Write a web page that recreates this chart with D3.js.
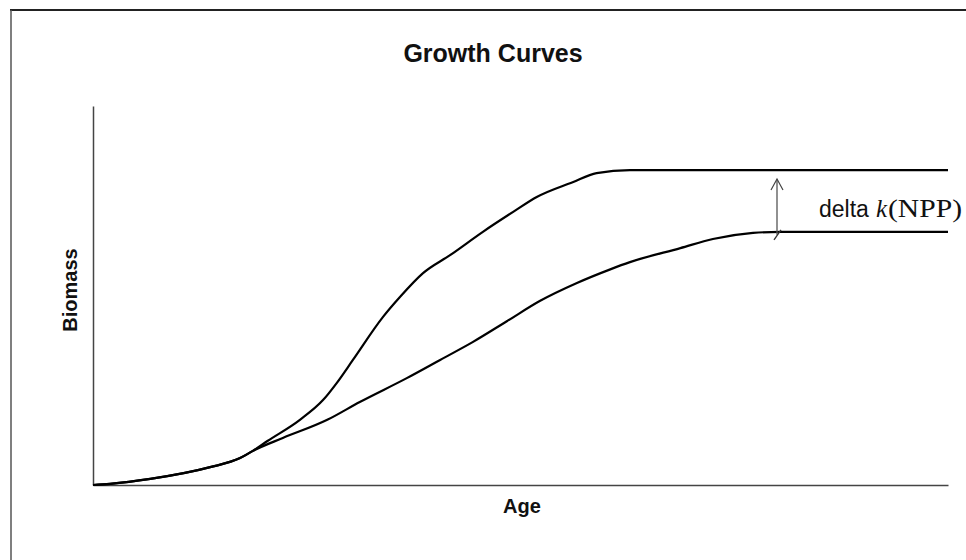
<!DOCTYPE html>
<html><head><meta charset="utf-8">
<script src="https://cdn.jsdelivr.net/npm/d3@7"></script>
<style>body{margin:0;background:#fff}svg{display:block}</style>
</head><body>
<svg id="c" width="966" height="560"></svg>
<script>
// ---- data (arbitrary units, 0..100) ----
const ageHigh = [0, 2.0, 6.7, 13.7, 17.2, 18.7, 20.4, 24.2, 26.9, 28.5, 30.4, 33.9, 35.9, 38.6, 41.8, 45.6, 49.1, 51.9, 56.1, 58.9, 62.8, 100];
const biomassHigh = [0, 0.3, 1.6, 4.7, 7.1, 9.0, 11.6, 17.2, 22.4, 26.9, 33.0, 44.3, 49.6, 55.9, 60.7, 66.8, 72.0, 76.0, 79.9, 82.3, 83.1, 83.1];
const ageLow = [0, 2.0, 6.7, 13.7, 17.2, 18.7, 22.2, 27.4, 31.2, 36.7, 40.6, 44.4, 48.4, 52.3, 56.6, 60.5, 62.8, 68.7, 72.5, 77.2, 80.4, 100];
const biomassLow = [0, 0.3, 1.6, 4.7, 7.1, 9.0, 12.4, 17.2, 21.9, 28.2, 33.0, 37.7, 43.2, 48.6, 53.3, 56.9, 58.8, 62.5, 64.9, 66.5, 66.8, 66.8];
const deltaAge = [80.0];
const titleText = "Growth Curves";
const xLabel = "Age";
const yLabel = "Biomass";

const svg = d3.select("#c");
const x = d3.scaleLinear().domain([0, 100]).range([93, 948]);
const y = d3.scaleLinear().domain([0, 100]).range([485, 106]);

// frame
svg.append("line").attr("x1", 10).attr("y1", 10).attr("x2", 966).attr("y2", 10)
  .attr("stroke", "#222").attr("stroke-width", 2);
svg.append("line").attr("x1", 11).attr("y1", 10).attr("x2", 11).attr("y2", 560)
  .attr("stroke", "#555").attr("stroke-width", 1.5);

// axes (no ticks)
const xAxis = d3.axisBottom(x).tickValues([]).tickSizeOuter(0);
const yAxis = d3.axisLeft(y).tickValues([]).tickSizeOuter(0);
svg.append("g").attr("transform", `translate(0,${y(0)})`).call(xAxis)
  .select(".domain").attr("stroke", "#444").attr("stroke-width", 1.5);
svg.append("g").attr("transform", `translate(${x(0)},0)`).call(yAxis)
  .select(".domain").attr("stroke", "#444").attr("stroke-width", 1.5);

const line = d3.line().x(d => x(d[0])).y(d => y(d[1])).curve(d3.curveMonotoneX);
const hi = ageHigh.map((a, i) => [a, biomassHigh[i]]);
const lo = ageLow.map((a, i) => [a, biomassLow[i]]);
[hi, lo].forEach(pts => {
  svg.append("path").attr("d", line(pts)).attr("fill", "none")
    .attr("stroke", "#000").attr("stroke-width", 2.2).attr("stroke-linejoin", "round");
});

// delta arrow
const ax = x(deltaAge[0]);
const yTop = y(biomassHigh[biomassHigh.length - 1]) + 9;
const yBot = y(biomassLow[biomassLow.length - 1]) + 3;
svg.append("line").attr("x1", ax).attr("x2", ax).attr("y1", yTop).attr("y2", yBot)
  .attr("stroke", "#555").attr("stroke-width", 1.3);
svg.append("path").attr("d", `M${ax - 6},${yTop + 11} L${ax},${yTop} L${ax + 6},${yTop + 11}`)
  .attr("fill", "none").attr("stroke", "#444").attr("stroke-width", 1.2);
svg.append("line").attr("x1", ax - 3).attr("y1", yBot + 5).attr("x2", ax + 4).attr("y2", yBot - 5)
  .attr("stroke", "#333").attr("stroke-width", 1.3);

svg.append("text").attr("x", 819).attr("y", 217).attr("fill", "#111")
  .attr("font-family", "Liberation Sans, Arial, sans-serif").attr("font-size", 23)
  .text("delta");
svg.append("text").attr("x", 876).attr("y", 217).attr("fill", "#111")
  .attr("font-family", "Liberation Serif, Times New Roman, serif").attr("font-style", "italic").attr("font-size", 25)
  .text("k");
svg.append("text").attr("x", 888).attr("y", 217).attr("fill", "#111")
  .attr("font-family", "Liberation Serif, Times New Roman, serif").attr("font-size", 25)
  .attr("textLength", 74).attr("lengthAdjust", "spacingAndGlyphs").text("(NPP)");

// titles
svg.append("text").attr("x", 493).attr("y", 62).attr("text-anchor", "middle")
  .attr("font-family", "Liberation Sans, Arial, sans-serif").attr("font-weight", "bold").attr("font-size", 25)
  .attr("fill", "#111").text(titleText);
svg.append("text").attr("x", 522).attr("y", 513).attr("text-anchor", "middle")
  .attr("font-family", "Liberation Sans, Arial, sans-serif").attr("font-weight", "bold").attr("font-size", 20)
  .attr("fill", "#111").text(xLabel);
svg.append("text").attr("transform", "translate(77,290) rotate(-90)").attr("text-anchor", "middle")
  .attr("font-family", "Liberation Sans, Arial, sans-serif").attr("font-weight", "bold").attr("font-size", 20)
  .attr("fill", "#111").text(yLabel);
</script>
</body></html>
